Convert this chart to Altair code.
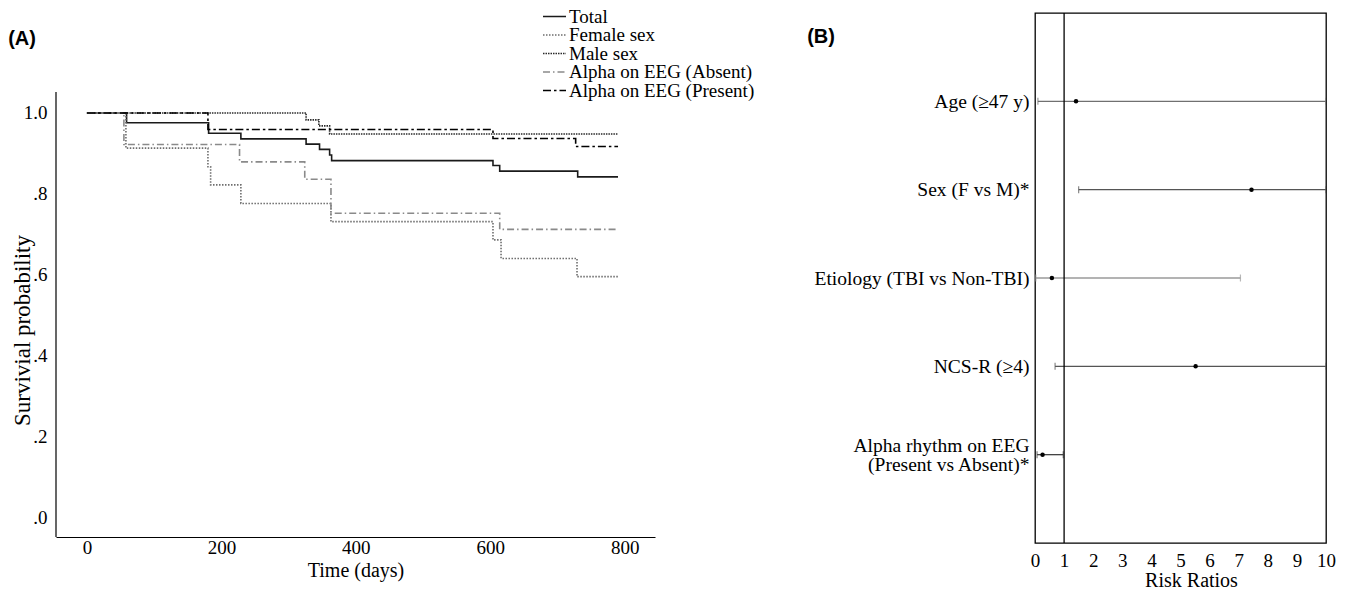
import altair as alt
import pandas as pd

SERIF = "Liberation Serif"
SANS = "Liberation Sans"

# ---------------- Panel A: Kaplan-Meier curves ----------------
series_names = ["Total", "Female sex", "Male sex",
                "Alpha on EEG (Absent)", "Alpha on EEG (Present)"]

total_days = [0, 59, 181, 229, 326, 346, 361, 364, 604, 614, 730, 790]
total_surv = [1.0, 0.976, 0.950, 0.936, 0.923, 0.910, 0.896, 0.882, 0.870, 0.856, 0.842, 0.842]

female_days = [0, 58, 180, 184, 229, 363, 604, 616, 729, 790]
female_surv = [1.0, 0.913, 0.867, 0.822, 0.776, 0.731, 0.686, 0.640, 0.595, 0.595]

male_days = [0, 326, 345, 361, 790]
male_surv = [1.0, 0.983, 0.968, 0.948, 0.948]

absent_days = [0, 55, 227, 324, 363, 614, 790]
absent_surv = [1.0, 0.922, 0.879, 0.836, 0.752, 0.712, 0.712]

present_days = [0, 180, 604, 727, 790]
present_surv = [1.0, 0.959, 0.937, 0.917, 0.917]

x_ticks = [0, 200, 400, 600, 800]
y_ticks = [0, 0.2, 0.4, 0.6, 0.8, 1.0]

# styles
line_colors = ["#1a1a1a", "#6e6e6e", "#2a2a2a", "#8a8a8a", "#000000"]
line_dashes = [[1, 0], [1.5, 1.5], [1.5, 1], [7, 3, 1.5, 3], [8, 3, 2.5, 3]]
line_widths = [1.6, 1.6, 2.6, 1.3, 3.0]

rows = []
for name, days, surv in [
    (series_names[0], total_days, total_surv),
    (series_names[1], female_days, female_surv),
    (series_names[2], male_days, male_surv),
    (series_names[3], absent_days, absent_surv),
    (series_names[4], present_days, present_surv),
]:
    for d, s in zip(days, surv):
        rows.append({"series": name, "day": d, "surv": s})
km_df = pd.DataFrame(rows)
leg_df = pd.DataFrame({"series": series_names})

X_MIN, X_MAX = -46, 845
Y_MIN, Y_TOP_AXIS, Y_MAX = -0.0495, 1.052, 1.2475

x_scale_a = alt.Scale(domain=[X_MIN, X_MAX], nice=False, zero=False)
y_scale_a = alt.Scale(domain=[Y_MIN, Y_MAX], nice=False, zero=False)

color_a = alt.Color("series:N", sort=series_names,
                    scale=alt.Scale(domain=series_names, range=line_colors), legend=None)
dash_a = alt.StrokeDash("series:N", sort=series_names,
                        scale=alt.Scale(domain=series_names, range=line_dashes), legend=None)
width_a = alt.StrokeWidth("series:N", sort=series_names,
                          scale=alt.Scale(domain=series_names, range=line_widths), legend=None)

lines = alt.Chart(km_df).mark_line(interpolate="step-after").encode(
    x=alt.X("day:Q", scale=x_scale_a,
            axis=alt.Axis(values=x_ticks, title="Time (days)", grid=False, ticks=False,
                          domainColor="black", domainWidth=1.2,
                          labelFont=SERIF, labelFontSize=19, labelColor="black",
                          labelPadding=1, titleFont=SERIF, titleFontSize=20,
                          titleFontWeight="normal", titleColor="black", titlePadding=3)),
    y=alt.Y("surv:Q", scale=y_scale_a,
            axis=alt.Axis(values=y_ticks, title="Survivial probability", grid=False,
                          ticks=False, domain=False,
                          labelExpr="datum.value == 1 ? '1.0' : '.' + format(datum.value * 10, 'd')",
                          labelFont=SERIF, labelFontSize=19, labelColor="black",
                          labelPadding=9, titleFont=SERIF, titleFontSize=23,
                          titleFontWeight="normal", titleColor="black",
                          titleAngle=270, titleX=-34, titleY=317,
                          titleAlign="center", titleBaseline="middle")),
    color=color_a, strokeDash=dash_a, strokeWidth=width_a,
)

# left axis line (only up to just above 1.0, as in the original)
axis_df = pd.DataFrame({"ax": [X_MIN], "ay": [Y_MIN], "ay2": [Y_TOP_AXIS]})
y_axis_line = alt.Chart(axis_df).mark_rule(color="black", strokeWidth=1.2).encode(
    x=alt.X("ax:Q", scale=x_scale_a), y=alt.Y("ay:Q", scale=y_scale_a), y2="ay2:Q")

label_a = alt.Chart(pd.DataFrame({"t": ["(A)"]})).mark_text(
    font=SANS, fontWeight="bold", fontSize=20, color="black", align="center", baseline="middle"
).encode(x=alt.value(-34), y=alt.value(26), text="t:N")

# legend (drawn as marks so the row spacing matches the original)
LEG_X0, LEG_X1, LEG_TX, LEG_Y0, LEG_DY = 487, 510, 513, 3.5, 18.5
legend_layers = []
for i, name in enumerate(series_names):
    ly = LEG_Y0 + LEG_DY * i
    base_l = alt.Chart(leg_df).transform_filter(alt.datum.series == name)
    legend_layers.append(base_l.mark_rule().encode(
        x=alt.value(LEG_X0), x2=alt.value(LEG_X1), y=alt.value(ly),
        color=color_a, strokeDash=dash_a, strokeWidth=width_a))
    legend_layers.append(base_l.mark_text(
        align="left", baseline="middle", font=SERIF, fontSize=19, color="black"
    ).encode(x=alt.value(LEG_TX), y=alt.value(ly), text="series:N"))

left = alt.layer(lines, y_axis_line, label_a, *legend_layers).properties(width=599, height=524)

# ---------------- Panel B: forest plot ----------------
factors = ["Age (≥47 y)", "Sex (F vs M)*", "Etiology (TBI vs Non-TBI)", "NCS-R (≥4)",
           "Alpha rhythm on EEG\n(Present vs Absent)*"]
risk_ratio = [1.41, 7.44, 0.58, 5.52, 0.26]
ci_lower = [0.10, 1.50, 0.03, 0.69, 0.07]
ci_upper = [10.0, 10.0, 7.06, 10.0, 0.97]
rr_ticks = list(range(0, 11))

ci_colors = ["#707070", "#555555", "#9a9a9a", "#555555", "#444444"]

forest_df = pd.DataFrame({"factor": factors, "rr": risk_ratio,
                          "lower": ci_lower, "upper": ci_upper})

y_axis_b = alt.Axis(title=None, domain=False, ticks=False, grid=False,
                    labelExpr="split(datum.label, '\\n')",
                    labelFont=SERIF, labelFontSize=19.5, labelColor="black",
                    labelPadding=6, labelLimit=400, labelLineHeight=19,
                    labelOffset={"condition": {"test": "indexof(datum.value, 'Alpha') >= 0",
                                               "value": -9.5},
                                 "value": 0})
y_scale_b = alt.Scale(type="point", padding=1.0)
x_scale_b = alt.Scale(domain=[0, 10], nice=False, zero=False)
x_axis_b = alt.Axis(values=rr_ticks, title="Risk Ratios", grid=False, ticks=False,
                    domain=False, labelOverlap=False, labelFlush=False, labelFont=SERIF,
                    labelFontSize=19, labelColor="black", labelPadding=8, titleFont=SERIF,
                    titleFontSize=20, titleFontWeight="normal", titleColor="black",
                    titlePadding=0, titleX=156)

def yb():
    return alt.Y("factor:N", sort=factors, scale=y_scale_b, axis=y_axis_b)

def xb(field):
    return alt.X(field, scale=x_scale_b, axis=x_axis_b)

color_enc = alt.Color("factor:N", sort=factors,
                      scale=alt.Scale(domain=factors, range=ci_colors), legend=None)

base_r = alt.Chart(forest_df)
ci = base_r.mark_rule(clip=True, strokeWidth=1.3).encode(
    x=xb("lower:Q"), x2="upper:Q", y=yb(), color=color_enc)
caps_lo = base_r.mark_tick(clip=True, size=7, thickness=1.2).encode(
    x=xb("lower:Q"), y=yb(), color=color_enc)
caps_hi = base_r.mark_tick(clip=True, size=7, thickness=1.2).encode(
    x=xb("upper:Q"), y=yb(), color=color_enc)
pts = base_r.mark_circle(size=20, color="black", opacity=1).encode(
    x=xb("rr:Q"), y=yb())
ref = alt.Chart(pd.DataFrame({"r": [1]})).mark_rule(color="black", strokeWidth=1.3).encode(
    x=xb("r:Q"))
label_b = alt.Chart(pd.DataFrame({"t": ["(B)"]})).mark_text(
    font=SANS, fontWeight="bold", fontSize=20, color="black", align="center", baseline="middle"
).encode(x=alt.value(-214), y=alt.value(24), text="t:N")

right = alt.layer(ci, caps_lo, caps_hi, pts, ref, label_b).properties(
    width=291, height=530,
    view=alt.ViewBackground(stroke="black", strokeWidth=1.3))

chart = alt.hconcat(left, right, spacing=380, bounds="flush").resolve_scale(
    color="independent", strokeDash="independent", strokeWidth="independent"
).properties(
    padding={"left": 8, "top": 7, "right": 10, "bottom": 0}
).configure_view(stroke=None).configure_axisX(labelOverlap=False, labelFlush=False)

chart.save("out.html", embed_options={"renderer": "svg", "actions": False})
